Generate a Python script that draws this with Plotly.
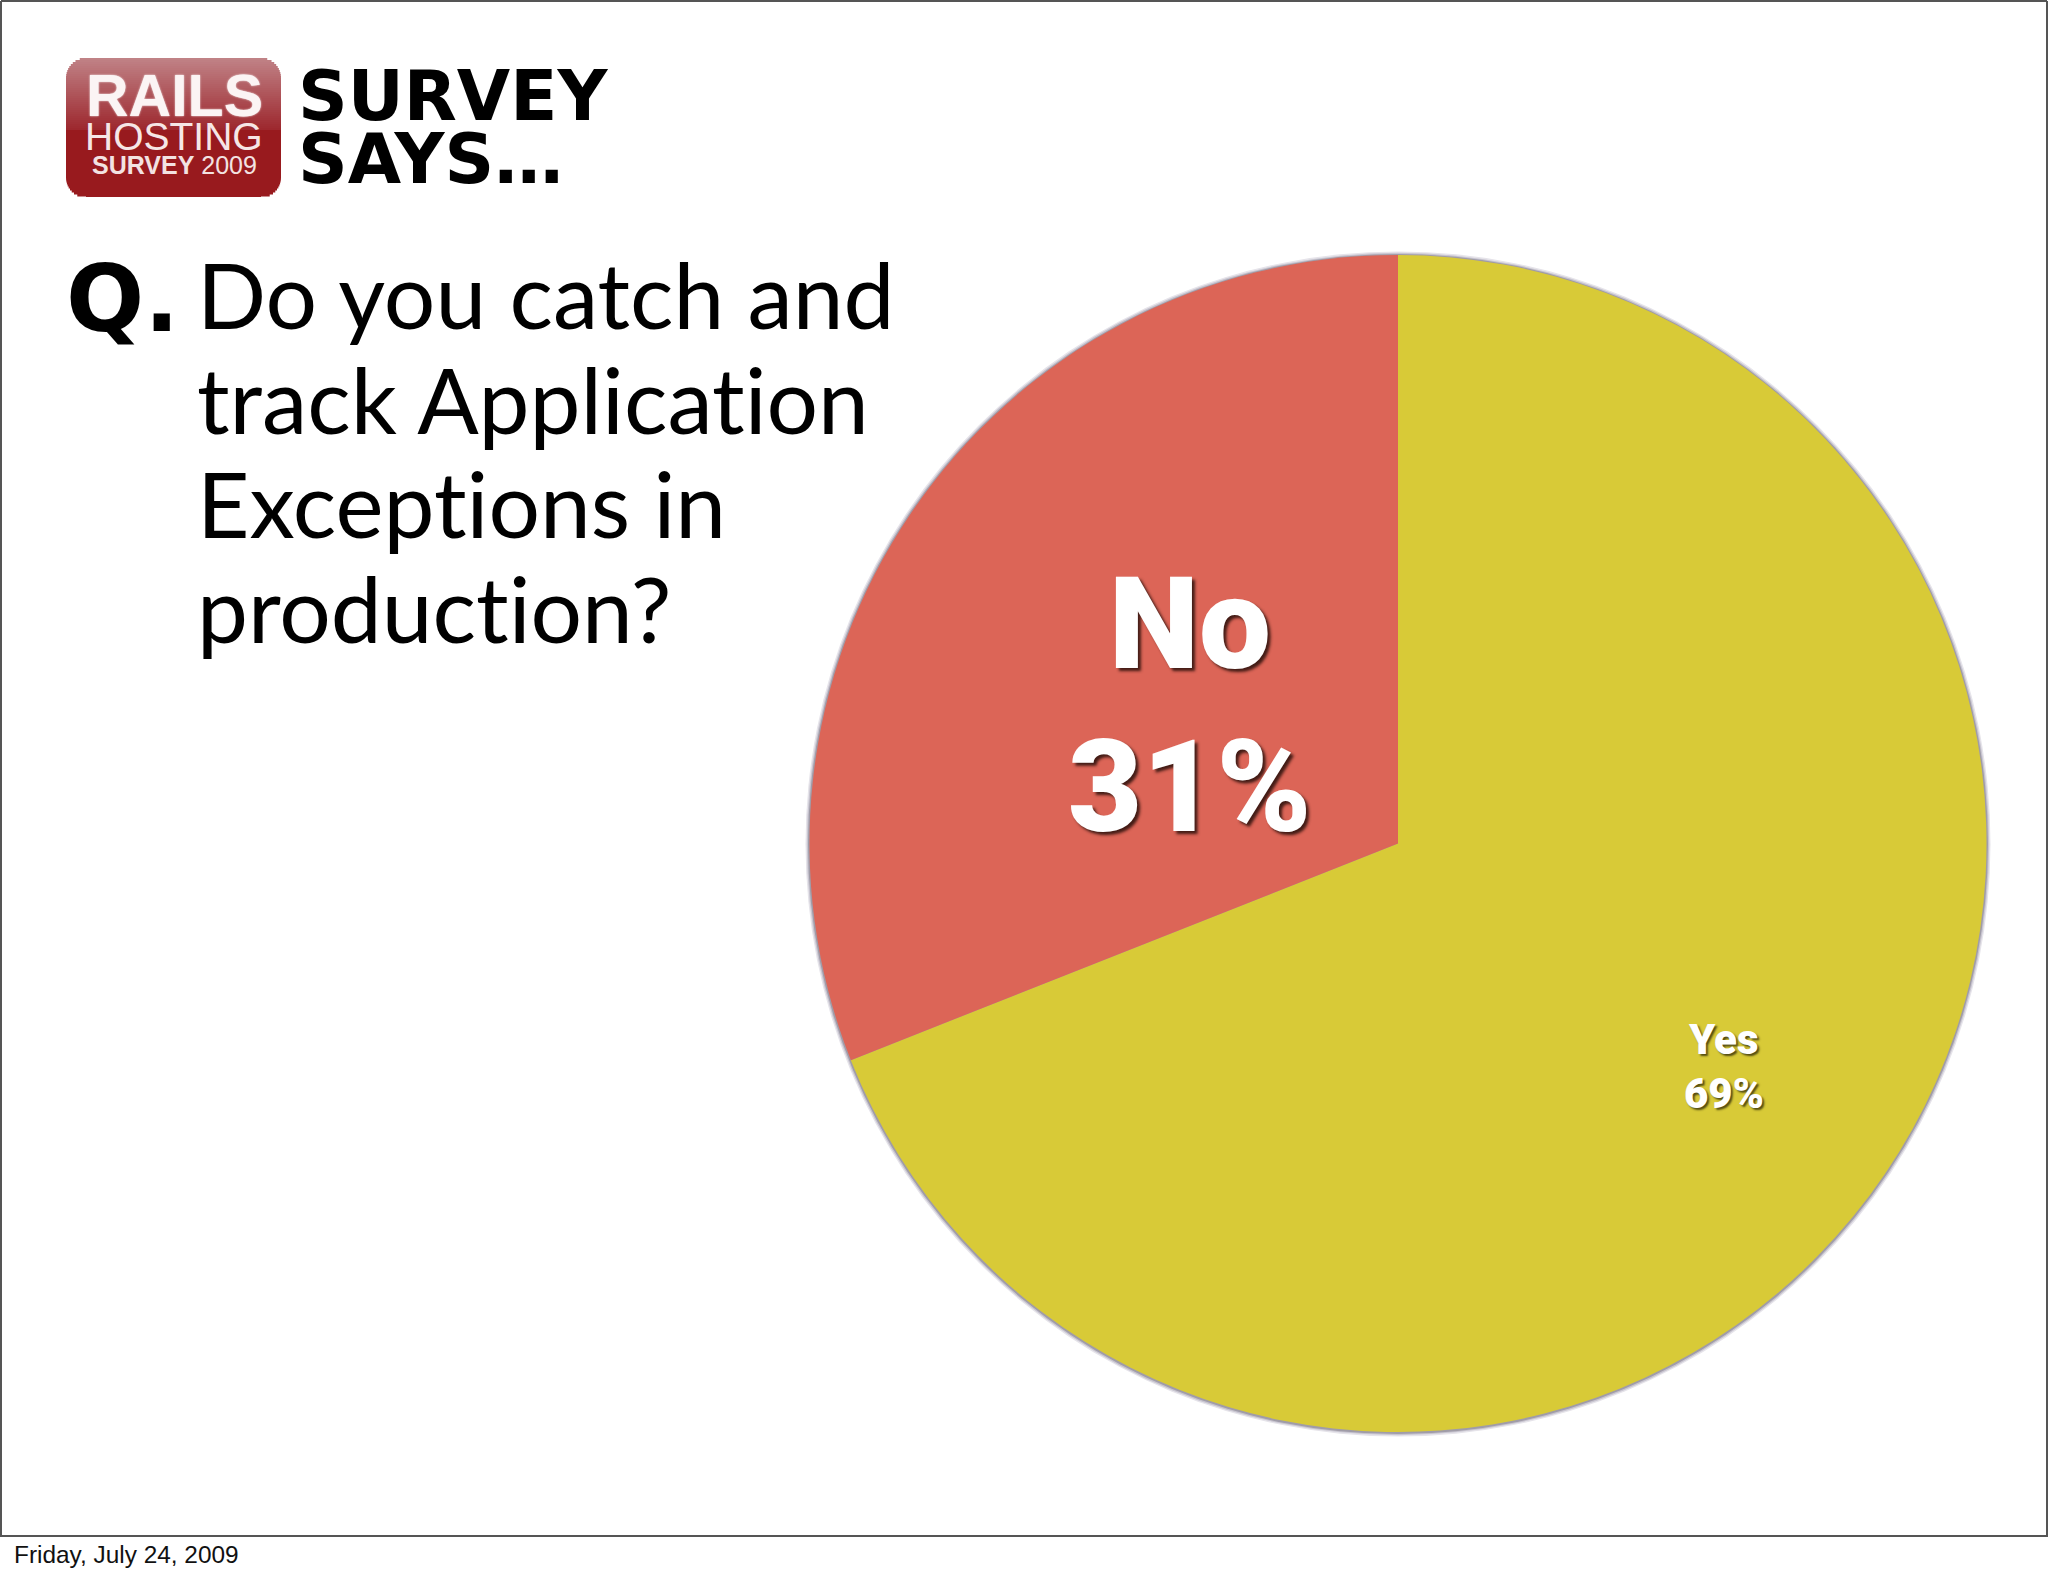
import math
import plotly.graph_objects as go

W = 2048
H = 1576

categories = ["Yes", "No"]
values = [69, 31]
slice_colors = ["#D8CA37", "#DC6557"]

question_lines = ["Do you catch and", "track Application", "Exceptions in", "production?"]
header_lines = ["SURVEY", "SAYS\u2026"]
footer_text = "Friday, July 24, 2009"


def px(x):
    return x / W


def py(y):
    return 1 - y / H


def note(x, y, text, size, family, color="#000000", weight=400, anchor="left", shadow=None):
    # y is the vertical middle of the text box, in page pixels
    font = dict(size=size, family=family, color=color, weight=weight)
    if shadow:
        font["shadow"] = shadow
    fig.add_annotation(
        x=px(x), y=py(y), xref="paper", yref="paper",
        text=text, showarrow=False, xanchor=anchor, yanchor="middle",
        font=font, borderpad=0, borderwidth=0,
    )


def inset_at(y, top, bottom, r):
    # how far the rounded corner cuts in at height y
    d = 0
    if y < top + r:
        d = top + r - y
    elif y > bottom - r:
        d = y - (bottom - r)
    return r - math.sqrt(max(r * r - d * d, 0))


fig = go.Figure()

fig.add_trace(go.Pie(
    labels=categories,
    values=values,
    sort=False,
    direction="clockwise",
    rotation=0,
    textinfo="none",
    showlegend=False,
    hoverinfo="label+percent",
    marker=dict(colors=slice_colors, line=dict(width=0)),
    domain=dict(x=[px(809), px(1987)], y=[py(1432), py(255)]),
))

# soft halo behind the pie
for grow, halo in [(3.5, "#e6e4ea"), (2.2, "#c8c5d0"), (1, "#a09ca8")]:
    fig.add_shape(type="circle", xref="paper", yref="paper", layer="below",
                  x0=px(809 - grow), x1=px(1987 + grow),
                  y0=py(255 - grow), y1=py(1432 + grow + 1),
                  fillcolor=halo, line=dict(width=0))

# page frame and footer rule
frame_color = "#555555"
for x0, y0, x1, y1 in [(1, 1, 2047, 1), (1, 1, 1, 1536), (2047, 1, 2047, 1536), (0, 1536, 2048, 1536)]:
    fig.add_shape(type="line", xref="paper", yref="paper",
                  x0=px(x0), y0=py(y0), x1=px(x1), y1=py(y1),
                  line=dict(color=frame_color, width=2))

# logo badge, stacked strips give the glossy fade
logo_l, logo_r, logo_t, logo_b, logo_r_corner = 66, 281, 58, 197, 20
strip = 2
y = logo_t
while y < logo_b:
    t = (y - logo_t) / 72
    if t < 1:
        c = (int(192 - 36 * t), int(130 - 92 * t), int(134 - 90 * t))
    else:
        c = (152, 26, 30)
    mid = y + strip / 2
    cut = inset_at(mid, logo_t, logo_b, logo_r_corner)
    fig.add_shape(type="rect", xref="paper", yref="paper", layer="below",
                  x0=px(logo_l + cut), x1=px(logo_r - cut),
                  y0=py(y), y1=py(min(y + strip + 0.5, logo_b)),
                  fillcolor="rgb(%d,%d,%d)" % c, line=dict(width=0))
    y += strip

note(174, 96, "RAILS", 59, "Liberation Sans", "#FBF4F4", 700, "center", "0 0 2px #ffffff")
note(174, 137, "HOSTING", 39, "Liberation Sans", "#F6E6E6", anchor="center")
note(174, 165, "<b>SURVEY</b> 2009", 25, "Liberation Sans", "#F3E2E2", anchor="center")

# header and question
note(298, 96, header_lines[0], 69, "DejaVu Sans", weight=700)
note(298, 159, header_lines[1], 69, "DejaVu Sans", weight=700)
note(66, 300, "Q.", 92, "DejaVu Sans", weight=700)
for i, line in enumerate(question_lines):
    note(197, 294 + i * 104.4, line.replace("ti", "t\u200ci"), 91, "Lato")

# slice labels
label_shadow = "3px 3px 3px rgba(40,15,10,0.85)"
small_shadow = "2px 2px 2px rgba(50,45,10,0.8)"
note(1190, 624, categories[1], 128, "Roboto", "#FFFFFF", 900, "center", label_shadow)
note(1189, 787, "%d%%" % values[1], 128, "Roboto", "#FFFFFF", 900, "center", label_shadow)
note(1723, 1039, categories[0], 42, "Roboto", "#FFFFFF", 900, "center", small_shadow)
note(1724, 1093, "%d%%" % values[0], 42, "Roboto", "#FFFFFF", 900, "center", small_shadow)

note(14, 1554, footer_text, 24.4, "Liberation Sans", "#111111")

fig.update_layout(
    width=W,
    height=H,
    margin=dict(l=0, r=0, t=0, b=0),
    paper_bgcolor="#FFFFFF",
    plot_bgcolor="#FFFFFF",
)

fig.write_html("out.html", config={"displayModeBar": False}, post_script="document.body.style.margin='0';")
